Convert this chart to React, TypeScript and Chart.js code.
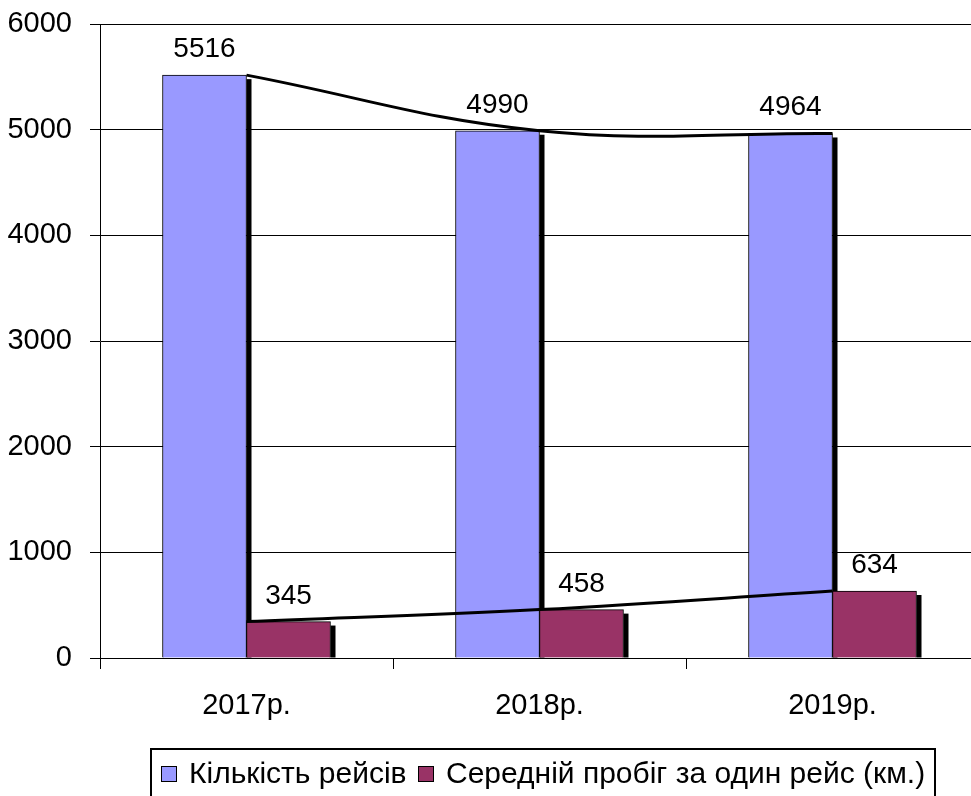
import React, { useEffect, useRef } from "react";
import { Chart, registerables } from "chart.js";

Chart.register(...registerables);

const categories = ["2017р.", "2018р.", "2019р."];
const tripCounts = [5516, 4990, 4964];
const avgMileage = [345, 458, 634];
const seriesNames = ["Кількість рейсів", "Середній пробіг за один рейс (км.)"];
const seriesColors = ["#9999FF", "#993366"];
const yMin = 0;
const yMax = 6000;
const yStep = 1000;

const FONT = "'Liberation Sans', Arial, sans-serif";

const shadowPlugin = {
  id: "barShadow",
  beforeDatasetsDraw(chart: any) {
    const ctx = chart.ctx;
    const area = chart.chartArea;
    ctx.save();
    ctx.beginPath();
    ctx.rect(area.left, area.top, area.right - area.left, area.bottom - area.top);
    ctx.clip();
    ctx.fillStyle = "#000";
    chart.data.datasets.forEach((ds: any, i: number) => {
      if (ds.type !== "bar") return;
      const meta = chart.getDatasetMeta(i);
      meta.data.forEach((el: any) => {
        const right = el.x + el.width / 2;
        const top = el.y + 4;
        ctx.fillRect(right, top, 5, el.base - top);
      });
    });
    ctx.restore();
  },
};

const labelPlugin = {
  id: "barLabels",
  afterDatasetsDraw(chart: any) {
    const ctx = chart.ctx;
    ctx.save();
    ctx.fillStyle = "#000";
    ctx.font = `28px ${FONT}`;
    ctx.textAlign = "center";
    ctx.textBaseline = "alphabetic";
    chart.data.datasets.forEach((ds: any, i: number) => {
      if (ds.type !== "bar") return;
      const meta = chart.getDatasetMeta(i);
      meta.data.forEach((el: any, j: number) => {
        ctx.fillText(String(ds.data[j]), el.x, el.y - 18);
      });
    });
    ctx.restore();
  },
};

export default function App() {
  const canvasRef = useRef<HTMLCanvasElement | null>(null);

  useEffect(() => {
    document.body.style.margin = "0";
    const canvas = canvasRef.current;
    if (!canvas) return;
    const chart = new Chart(canvas, {
      type: "bar",
      data: {
        labels: categories,
        datasets: [
          {
            type: "bar",
            label: seriesNames[0],
            data: tripCounts,
            backgroundColor: seriesColors[0],
            borderColor: "#000",
            borderWidth: 1,
            barThickness: 84,
            order: 1,
          },
          {
            type: "bar",
            label: seriesNames[1],
            data: avgMileage,
            backgroundColor: seriesColors[1],
            borderColor: "#000",
            borderWidth: 1,
            barThickness: 84,
            order: 1,
          },
          {
            type: "line",
            label: "trend1",
            data: tripCounts,
            borderColor: "#000",
            borderWidth: 3,
            pointRadius: 0,
            tension: 0.4,
            fill: false,
            order: 0,
          },
          {
            type: "line",
            label: "trend2",
            data: avgMileage,
            borderColor: "#000",
            borderWidth: 3,
            pointRadius: 0,
            tension: 0.4,
            fill: false,
            order: 0,
          },
        ] as any,
      },
      options: {
        animation: false,
        responsive: false,
        devicePixelRatio: 1,
        layout: { padding: { top: 24, left: 0, right: 0, bottom: 68 } },
        plugins: {
          legend: { display: false },
          tooltip: { enabled: false },
        },
        scales: {
          x: {
            type: "category",
            offset: true,
            grid: {
              drawOnChartArea: false,
              offset: true,
              tickLength: 11,
              color: "#000",
              lineWidth: 1,
            },
            border: { display: true, color: "#000", width: 1 },
            ticks: { font: { family: FONT, size: 29 }, color: "#000", padding: 20 },
            afterFit: (s: any) => {
              s.height = 70;
              s.paddingLeft = 0;
              s.paddingRight = 0;
            },
          },
          y: {
            min: yMin,
            max: yMax,
            grid: { color: "#000", lineWidth: 1, tickLength: 10 },
            border: { display: true, color: "#000", width: 1 },
            ticks: {
              stepSize: yStep,
              font: { family: FONT, size: 29 },
              color: "#000",
              padding: 18,
              callback: (v: any) => String(v),
            },
            afterFit: (s: any) => {
              s.width = 100;
              s.paddingTop = 0;
              s.paddingBottom = 0;
            },
          },
        },
      } as any,
      plugins: [shadowPlugin, labelPlugin],
    });
    return () => chart.destroy();
  }, []);

  const textStyle: React.CSSProperties = {
    position: "absolute",
    top: 757,
    fontFamily: FONT,
    fontSize: 30,
    lineHeight: "32px",
    color: "#000",
    whiteSpace: "nowrap",
  };
  const boxStyle = (c: string, left: number): React.CSSProperties => ({
    position: "absolute",
    left,
    top: 766,
    width: 14,
    height: 14,
    background: c,
    border: "1px solid #000",
  });

  return (
    <div style={{ position: "relative", width: 971, height: 796, overflow: "hidden", background: "#fff" }}>
      <canvas ref={canvasRef} width={979} height={796} style={{ display: "block" }} />
      <div
        style={{
          position: "absolute",
          left: 150,
          top: 748,
          width: 786,
          height: 80,
          border: "2px solid #000",
          boxSizing: "border-box",
        }}
      />
      <div style={boxStyle(seriesColors[0], 161)} />
      <div style={{ ...textStyle, left: 189 }}>{seriesNames[0]}</div>
      <div style={boxStyle(seriesColors[1], 418)} />
      <div style={{ ...textStyle, left: 446 }}>{seriesNames[1]}</div>
    </div>
  );
}
